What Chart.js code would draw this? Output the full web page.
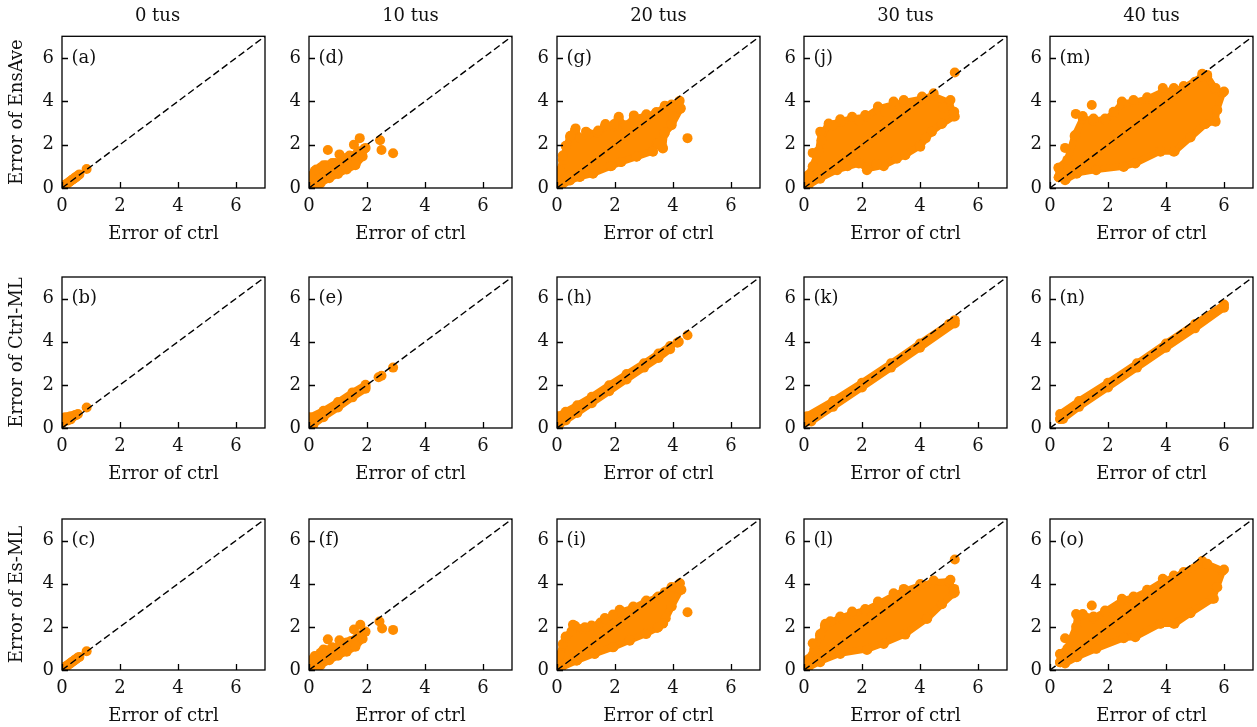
<!DOCTYPE html>
<html><head><meta charset="utf-8">
<script src="https://cdn.jsdelivr.net/npm/chart.js@4.4.0/dist/chart.umd.min.js"></script>
<style>
html,body{margin:0;padding:0;background:#fff}
body{width:1257px;height:727px;overflow:hidden;position:relative}
canvas{position:absolute}
</style></head><body>
<script>
// ---------- text ----------
const columnTitles = ['0 tus', '10 tus', '20 tus', '30 tus', '40 tus'];
const rowLabels = ['Error of EnsAve', 'Error of Ctrl-ML', 'Error of Es-ML'];
const xAxisLabel = 'Error of ctrl';
const tickValues = [0, 2, 4, 6];
const axisMin = 0, axisMax = 7;
const diagonal = [[0, 0], [7, 7]];
const panelLetters = [['a', 'd', 'g', 'j', 'm'], ['b', 'e', 'h', 'k', 'n'], ['c', 'f', 'i', 'l', 'o']];

// ---------- data: dense cloud outlines (centres of edge points) and individual points ----------
// (a) EnsAve, 0 tus
const a_cloud = [];
const a_points = [[0.02,0.05],[0.05,0.1],[0.08,0.12],[0.1,0.15],[0.15,0.18],[0.2,0.22],[0.25,0.28],[0.3,0.32],[0.35,0.38],[0.4,0.42],[0.45,0.48],[0.5,0.52],[0.55,0.58],[0.6,0.62],[0.85,0.88]];
// (b) Ctrl-ML, 0 tus
const b_cloud = [];
const b_points = [[0.02,0.25],[0.02,0.45],[0.05,0.35],[0.1,0.4],[0.1,0.5],[0.15,0.45],[0.2,0.5],[0.25,0.5],[0.3,0.55],[0.35,0.5],[0.4,0.55],[0.45,0.6],[0.5,0.6],[0.55,0.65],[0.3,0.4],[0.2,0.35],[0.85,0.95]];
// (c) Es-ML, 0 tus
const c_cloud = [];
const c_points = [[0.02,0.05],[0.05,0.1],[0.08,0.12],[0.1,0.15],[0.15,0.18],[0.2,0.22],[0.25,0.28],[0.3,0.32],[0.35,0.38],[0.4,0.42],[0.45,0.48],[0.5,0.52],[0.55,0.58],[0.6,0.6],[0.85,0.87]];
// (d) EnsAve, 10 tus
const d_cloud = [[0.05,0.05],[0.05,0.55],[0.2,0.8],[0.4,0.95],[0.6,1.05],[0.9,1.15],[1.2,1.3],[1.45,1.45],[1.7,1.7],[1.9,1.8],[1.85,1.45],[1.6,1.05],[1.3,0.85],[1.0,0.65],[0.7,0.45],[0.4,0.22],[0.15,0.06]];
const d_points = [[0.65,1.75],[1.05,1.55],[1.55,2.0],[1.75,2.3],[1.95,1.85],[2.45,2.2],[2.5,1.75],[2.9,1.6],[1.6,1.1],[1.4,1.5],[0.8,1.15],[1.15,1.35],[0.5,1.05],[0.25,0.85],[1.3,1.4],[1.7,1.5]];
// (e) Ctrl-ML, 10 tus
const e_cloud = [[0.03,0.15],[0.03,0.5],[0.5,0.8],[1.0,1.2],[1.5,1.65],[1.95,2.0],[1.95,1.82],[1.5,1.42],[1.0,0.95],[0.5,0.5],[0.15,0.15]];
const e_points = [[2.4,2.35],[2.5,2.42],[2.9,2.8],[1.95,1.9]];
// (f) Es-ML, 10 tus
const f_cloud = [[0.05,0.05],[0.05,0.45],[0.2,0.65],[0.4,0.8],[0.6,0.92],[0.9,1.02],[1.2,1.15],[1.45,1.35],[1.7,1.6],[1.9,1.75],[1.85,1.45],[1.6,1.08],[1.3,0.85],[1.0,0.66],[0.7,0.45],[0.4,0.22],[0.15,0.06]];
const f_points = [[0.65,1.42],[1.05,1.38],[1.55,1.88],[1.77,2.1],[1.95,1.78],[2.43,2.25],[2.52,1.92],[2.9,1.86],[1.6,1.13],[0.5,0.95],[1.3,1.28],[0.8,1.05]];
// (g) EnsAve, 20 tus
const g_cloud = [[0.05,0.05],[0.1,0.8],[0.2,1.3],[0.32,1.9],[0.45,2.35],[0.62,2.65],[0.8,2.3],[1.1,2.5],[1.4,2.55],[1.65,2.85],[1.95,2.85],[2.12,3.2],[2.35,2.85],[2.65,3.2],[3.05,3.3],[3.4,3.45],[3.7,3.7],[3.95,3.85],[4.2,3.95],[4.25,3.65],[3.95,2.9],[3.7,2.5],[3.65,1.85],[3.45,2.05],[3.3,1.7],[2.75,1.45],[2.2,1.2],[1.85,1.0],[1.25,0.68],[0.8,0.52],[0.45,0.35],[0.15,0.1]];
const g_points = [[4.5,2.3],[3.65,1.82],[0.64,2.75],[2.13,3.29],[4.27,3.68],[4.23,4.03],[3.95,2.95],[3.72,3.8],[0.3,1.95],[1.0,2.6],[2.65,3.35],[3.08,3.4],[1.67,2.95],[1.42,2.65],[0.46,2.41],[1.97,2.95],[2.37,2.9],[3.43,3.51],[3.49,2.06],[3.31,1.67],[2.74,1.44],[2.22,1.2],[1.88,1.02],[1.24,0.66],[0.78,0.51],[0.44,0.36],[3.72,2.55],[4.0,3.3],[0.2,1.5]];
// (h) Ctrl-ML, 20 tus
const h_cloud = [[0.03,0.15],[0.03,0.55],[0.3,0.75],[0.7,1.05],[1.2,1.45],[1.8,1.98],[2.4,2.5],[3.0,3.0],[3.5,3.45],[3.9,3.8],[3.9,3.65],[3.5,3.25],[3.0,2.8],[2.4,2.25],[1.8,1.7],[1.2,1.15],[0.7,0.7],[0.3,0.35],[0.1,0.2]];
const h_points = [[4.2,4.0],[4.5,4.3],[4.15,3.95]];
// (i) Es-ML, 20 tus
const i_cloud = [[0.05,0.05],[0.1,0.7],[0.2,1.2],[0.3,1.5],[0.5,1.8],[0.62,2.05],[0.9,1.9],[1.2,2.0],[1.5,2.2],[1.65,2.35],[1.95,2.5],[2.2,2.7],[2.6,2.85],[3.05,3.15],[3.45,3.35],[3.7,3.55],[3.95,3.85],[4.2,3.95],[4.25,3.7],[3.95,2.95],[3.75,2.4],[3.65,2.15],[3.45,1.95],[3.05,1.68],[2.5,1.38],[1.95,1.07],[1.3,0.76],[0.7,0.45],[0.15,0.12]];
const i_points = [[4.5,2.68],[0.55,2.1],[4.24,4.02],[4.29,3.72],[1.65,2.41],[2.16,2.79],[3.66,2.17],[0.3,1.55],[2.63,2.94],[3.08,3.22],[1.93,2.57],[1.19,2.06],[3.49,3.41],[3.72,3.61],[3.95,2.94],[3.49,1.98],[3.08,1.67],[2.51,1.36],[1.93,1.05],[1.3,0.74],[0.67,0.43],[0.96,1.98]];
// (j) EnsAve, 30 tus
const j_cloud = [[0.05,0.05],[0.15,0.6],[0.3,1.0],[0.5,1.7],[0.6,2.5],[0.85,2.9],[1.25,3.05],[1.65,3.2],[2.1,3.25],[2.55,3.65],[3.1,3.85],[3.45,3.95],[4.05,4.1],[4.45,4.25],[5.0,3.95],[5.15,3.45],[5.15,3.3],[4.75,2.95],[4.4,2.6],[4.0,1.95],[3.5,1.55],[2.75,1.05],[2.2,0.9],[1.9,1.15],[1.15,0.85],[0.55,0.45],[0.15,0.12]];
const j_points = [[0.3,1.62],[5.2,5.33],[2.17,0.82],[5.05,4.06],[5.2,3.3],[2.55,3.76],[3.44,4.06],[1.66,3.29],[0.56,2.6],[3.09,3.99],[4.07,4.22],[2.11,3.37],[0.85,2.98],[1.25,3.17],[4.47,4.37],[5.18,3.52],[4.76,2.98],[4.41,2.6],[4.01,1.9],[3.49,1.51],[2.75,1.0],[1.89,1.13],[1.14,0.82],[0.56,0.43],[0.6,2.2],[1.0,2.9],[1.9,3.1],[2.8,3.5],[3.7,3.9],[4.8,3.7],[4.2,2.3],[3.2,1.35],[2.5,1.1],[1.5,1.0]];
// (k) Ctrl-ML, 30 tus
const k_cloud = [[0.1,0.3],[0.1,0.55],[1.0,1.25],[2.0,2.1],[3.0,3.0],[4.0,3.92],[5.0,4.82],[5.2,5.0],[5.2,4.85],[4.0,3.72],[3.0,2.8],[2.0,1.88],[1.0,0.98],[0.25,0.3]];
const k_points = [];
// (l) Es-ML, 30 tus
const l_cloud = [[0.05,0.05],[0.15,0.5],[0.35,0.95],[0.55,1.6],[0.72,2.05],[0.9,2.2],[1.25,2.4],[1.65,2.6],[2.1,2.75],[2.55,3.05],[3.1,3.45],[3.45,3.65],[4.0,3.9],[4.45,4.05],[5.0,4.1],[5.15,3.7],[5.15,3.55],[4.75,3.05],[4.25,2.4],[3.5,1.68],[2.75,1.25],[2.2,0.98],[1.25,0.78],[0.55,0.4],[0.15,0.12]];
const l_points = [[0.3,1.24],[5.2,5.12],[2.17,0.93],[5.05,4.18],[5.18,3.76],[5.2,3.6],[0.91,2.26],[1.66,2.71],[2.55,3.17],[3.44,3.76],[1.25,2.48],[2.11,2.83],[3.09,3.56],[4.01,3.99],[4.47,4.15],[4.76,3.06],[4.24,2.37],[3.49,1.64],[2.75,1.21],[1.25,0.74],[0.56,0.36],[0.74,2.14],[0.56,1.67]];
// (m) EnsAve, 40 tus
const m_cloud = [[0.3,0.5],[0.3,0.93],[0.6,1.3],[0.85,2.4],[1.13,3.2],[1.5,3.1],[1.9,3.15],[2.2,3.45],[2.48,3.9],[2.9,3.95],[3.35,4.1],[3.9,4.45],[4.3,4.5],[4.6,4.6],[5.25,5.15],[5.42,5.15],[5.7,4.55],[5.95,4.4],[5.75,3.6],[5.7,3.1],[5.35,2.95],[4.85,2.35],[4.3,1.7],[3.8,1.7],[2.95,1.15],[2.55,1.0],[1.6,0.85],[0.95,0.7],[0.55,0.4]];
const m_points = [[0.52,1.85],[0.89,3.42],[1.44,3.83],[3.89,4.61],[4.27,4.61],[6.0,4.45],[5.25,5.27],[2.48,3.99],[4.84,2.33],[4.27,1.67],[2.94,1.13],[5.71,3.06],[5.77,3.6],[1.13,3.32],[0.87,2.44],[1.5,3.21],[1.9,3.21],[2.19,3.52],[2.88,4.06],[3.35,4.19],[4.61,4.71],[5.42,5.22],[5.71,4.61],[5.36,2.95],[3.81,1.67],[2.54,0.97],[1.59,0.82],[0.92,0.66],[0.52,0.36],[0.29,0.93],[0.35,0.51],[5.0,4.9]];
// (n) Ctrl-ML, 40 tus
const n_cloud = [[0.35,0.42],[0.35,0.65],[1.0,1.25],[2.0,2.1],[3.0,3.0],[4.0,3.92],[5.0,4.82],[6.0,5.72],[6.0,5.58],[5.0,4.62],[4.0,3.72],[3.0,2.8],[2.0,1.88],[1.0,0.98],[0.45,0.42]];
const n_points = [];
// (o) Es-ML, 40 tus
const o_cloud = [[0.35,0.36],[0.35,0.74],[0.6,1.0],[0.9,2.0],[0.95,2.5],[1.13,2.55],[1.5,2.4],[1.9,2.7],[2.48,3.2],[2.9,3.35],[3.35,3.65],[3.9,4.1],[4.3,4.3],[4.6,4.5],[5.25,5.0],[5.42,4.9],[5.95,4.6],[5.75,3.85],[5.6,3.3],[4.85,2.65],[4.3,2.15],[3.8,2.15],[2.95,1.55],[2.55,1.5],[1.6,1.0],[0.95,0.62],[0.52,0.3]];
const o_points = [[0.52,1.47],[0.9,2.6],[1.44,2.99],[6.0,4.66],[5.25,5.05],[5.42,4.92],[3.89,4.23],[4.27,2.14],[5.65,3.3],[2.94,1.52],[5.77,3.84],[1.13,2.6],[1.5,2.48],[1.9,2.76],[2.48,3.3],[2.88,3.41],[3.35,3.72],[4.27,4.38],[4.61,4.54],[4.84,2.63],[3.81,2.14],[2.54,1.47],[1.59,0.98],[0.92,0.59],[0.35,0.74],[0.35,0.36]];

const panelData = {
  a: [a_cloud, a_points], b: [b_cloud, b_points], c: [c_cloud, c_points],
  d: [d_cloud, d_points], e: [e_cloud, e_points], f: [f_cloud, f_points],
  g: [g_cloud, g_points], h: [h_cloud, h_points], i: [i_cloud, i_points],
  j: [j_cloud, j_points], k: [k_cloud, k_points], l: [l_cloud, l_points],
  m: [m_cloud, m_points], n: [n_cloud, n_points], o: [o_cloud, o_points]
};

// ---------- styling / layout ----------
const ORANGE = '#ff8c00';
const INK = '#111';
const FONT = 'DejaVu Serif';
const FS = 18;
const colLeft = [62, 308.7, 557.3, 803.7, 1050];
const rowTop = [36.3, 276.7, 518.7];
const plotW = 203, plotH = 151.4;
const padR = 6, padB = 62;
const R = 5;

const framePlugin = {
  id: 'frame',
  afterDraw(chart, args, opts) {
    const {ctx, chartArea: a, scales} = chart;
    const x = scales.x, y = scales.y;
    ctx.save();
    ctx.strokeStyle = '#000';
    ctx.lineWidth = 1.3;
    ctx.beginPath();
    for (const t of x.ticks) {
      const px = Math.round(x.getPixelForValue(t.value)) + 0.5;
      ctx.moveTo(px, a.bottom); ctx.lineTo(px, a.bottom - 6);
    }
    for (const t of y.ticks) {
      const py = Math.round(y.getPixelForValue(t.value)) + 0.5;
      ctx.moveTo(a.left, py); ctx.lineTo(a.left + 6, py);
    }
    ctx.stroke();
    ctx.strokeRect(a.left, a.top, a.right - a.left, a.bottom - a.top);
    ctx.fillStyle = INK;
    ctx.font = FS + 'px "' + FONT + '"';
    ctx.textBaseline = 'middle';
    ctx.textAlign = 'left';
    ctx.fillText('(' + opts.letter + ')', a.left + 9.5, y.getPixelForValue(6));
    if (opts.title) {
      ctx.textAlign = 'center';
      ctx.fillText(opts.title, (a.left + a.right) / 2 + opts.titleShift, a.top - 20);
    }
    ctx.restore();
  }
};

function toXY(arr) { return arr.map(([x, y]) => ({x, y})); }

for (let r = 0; r < 3; r++) {
  for (let c = 0; c < 5; c++) {
    const letter = panelLetters[r][c];
    const [cloud, pts] = panelData[letter];
    const padL = c === 0 ? colLeft[0] : 45;
    const padT = r === 0 ? rowTop[0] : 10;
    const cv = document.createElement('canvas');
    const W = padL + plotW + padR, H = padT + plotH + padB;
    cv.width = Math.round(W); cv.height = Math.round(H);
    cv.style.left = (colLeft[c] - padL) + 'px';
    cv.style.top = (rowTop[r] - padT) + 'px';
    cv.style.width = cv.width + 'px'; cv.style.height = cv.height + 'px';
    document.body.appendChild(cv);

    const datasets = [
      {label: 'y = x', data: toXY(diagonal), showLine: true, borderColor: '#000', borderWidth: 1.4,
       borderDash: [7, 3.5], pointRadius: 0, fill: false, order: 0, clip: 0},
      {label: 'points', data: toXY(pts), showLine: false, pointRadius: R, pointBackgroundColor: ORANGE,
       pointBorderWidth: 0, backgroundColor: ORANGE, borderColor: ORANGE, order: 2, clip: 0}
    ];
    if (cloud.length) {
      datasets.push({label: 'cloud', data: toXY(cloud.concat([cloud[0]])), showLine: true, fill: 'shape',
        backgroundColor: ORANGE, borderColor: ORANGE, borderWidth: 7, borderJoinStyle: 'round', borderCapStyle: 'round',
        tension: 0, pointRadius: R, pointBackgroundColor: ORANGE, pointBorderWidth: 0, order: 3, clip: 0});
    }

    new Chart(cv, {
      type: 'scatter',
      data: {datasets},
      plugins: [framePlugin],
      options: {
        responsive: false, animation: false, devicePixelRatio: 1, events: [],
        layout: {padding: {left: 0, right: padR, top: padT, bottom: 0}},
        plugins: {
          legend: {display: false}, tooltip: {enabled: false}, title: {display: false},
          frame: {letter, title: r === 0 ? columnTitles[c] : null, titleShift: c === 0 ? -6 : 0}
        },
        scales: {
          x: {
            type: 'linear', position: 'bottom', min: axisMin, max: axisMax,
            grid: {display: false, drawTicks: false, tickLength: 0}, border: {display: false},
            afterBuildTicks: s => { s.ticks = tickValues.map(v => ({value: v})); },
            afterFit: s => { s.height = padB; s.paddingLeft = 0; s.paddingRight = 0; },
            ticks: {color: INK, font: {family: FONT, size: FS}, padding: 7.5, maxRotation: 0},
            title: {display: true, text: xAxisLabel, color: INK, font: {family: FONT, size: FS}, padding: {top: 0, bottom: 4.6}}
          },
          y: {
            type: 'linear', position: 'left', min: axisMin, max: axisMax,
            grid: {display: false, drawTicks: false, tickLength: 0}, border: {display: false},
            afterBuildTicks: s => { s.ticks = tickValues.map(v => ({value: v})); },
            afterFit: s => { s.width = padL; s.paddingTop = 0; s.paddingBottom = 0; },
            ticks: {color: INK, font: {family: FONT, size: FS}, padding: 8},
            title: {display: c === 0, text: rowLabels[r], color: INK, font: {family: FONT, size: FS}, padding: {top: 6.2, bottom: 0}}
          }
        }
      }
    });
  }
}
</script>
</body></html>
